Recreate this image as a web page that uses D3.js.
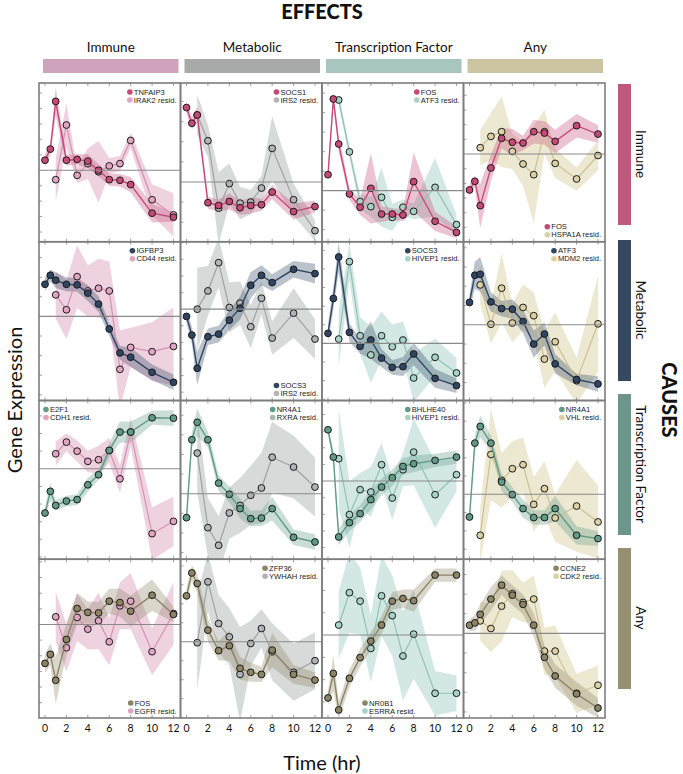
<!DOCTYPE html>
<html><head><meta charset="utf-8">
<script src="https://cdn.jsdelivr.net/npm/d3@7"></script>
<style>body{margin:0;background:#fff}</style>
</head><body><svg id="c" width="683" height="774" xmlns="http://www.w3.org/2000/svg"></svg>
<script>
// ---------- data ----------
const causes = ["Immune", "Metabolic", "Transcription Factor", "Any"];
const effects = ["Immune", "Metabolic", "Transcription Factor", "Any"];
const times = [0, 0.5, 1, 2, 3, 4, 5, 6, 7, 8, 10, 12];
const residTimes = [1, 2, 3, 4, 5, 6, 7, 8, 10, 12];
const xTickValues = [0, 2, 4, 6, 8, 10, 12];

// panels in row order (cause rows x effect columns)
const geneLabels = [
  ["TNFAIP3", "IRAK2 resid."], ["SOCS1", "IRS2 resid."], ["FOS", "ATF3 resid."], ["FOS", "HSPA1A resid."],
  ["IGFBP3", "CD44 resid."], ["SOCS3", "IRS2 resid."], ["SOCS3", "HIVEP1 resid."], ["ATF3", "MDM2 resid."],
  ["E2F1", "CDH1 resid."], ["NR4A1", "RXRA resid."], ["BHLHE40", "HIVEP1 resid."], ["NR4A1", "VHL resid."],
  ["FOS", "EGFR resid."], ["ZFP36", "YWHAH resid."], ["NR0B1", "ESRRA resid."], ["CCNE2", "CDK2 resid."]
];
const yRanges = [
  [-4.63, 5.65], [-2.97, 4.92], [-2.62, 5.52], [-5.98, 4.84],
  [-4.29, 3.81], [-5.5, 4.06], [-3.07, 5.46], [-3.93, 4.31],
  [-5.13, 3.87], [-3.34, 4.75], [-4.7, 4.84], [-3.55, 5.13],
  [-5.98, 4.17], [-4.02, 4.35], [-3.72, 3.4], [-4.31, 3.78]
];
const mainValues = [
  [0.65, 1.37, 4.46, 0.65, 0.70, 0.59, 0, -0.61, -0.65, -0.93, -2.78, -3.04],
  [3.7, 2.92, 3.33, -1.03, -1.17, -0.97, -1.28, -1.17, -1.13, -0.5, -1.47, -1.22],
  [0.82, 4.7, 2.39, -0.17, -0.85, 0.12, -1.2, -1.2, -1.25, 0.46, -1.57, -2.14],
  [-2.45, -1.86, -3.52, -0.95, 1.07, 0.8, 0.75, 1.52, 1.43, 0.86, 1.93, 1.36],
  [1.64, 2.1, 1.85, 1.64, 1.61, 1.19, 0.63, -0.64, -1.86, -2.08, -2.85, -3.36],
  [-0.44, -1.56, -3.56, -1.66, -1.5, -0.66, 0.06, 1.44, 2.04, 1.6, 2.4, 2.14],
  [0.54, 2.41, 4.64, 0.59, -0.16, 0.18, -0.79, -1.29, -1.25, -0.57, -1.88, -2.27],
  [1.16, 2.57, 2.62, 1.19, 0.84, 0.81, 0.17, -1.0, -0.48, -2.03, -2.84, -3.07],
  [-2.51, -1.28, -2.08, -1.83, -1.75, -0.91, -0.34, 1.04, 2.08, 2.08, 2.89, 2.87],
  [-1.22, 2.75, 3.64, 2.75, 0.54, -0.03, -0.76, -1.27, -1.24, -0.76, -2.22, -2.46],
  [3.08, 1.44, -3.36, -2.5, -1.96, -1.12, -0.36, 0.2, 0.88, 1.04, 1.24, 1.44],
  [-1.24, 2.8, 3.71, 2.8, 0.67, -0.02, -0.78, -1.27, -1.27, -0.78, -2.24, -2.42],
  [-2.49, -1.91, -3.57, -0.96, 1.02, 0.77, 0.74, 1.49, 1.4, 0.85, 1.87, 0.64],
  [2.42, 3.63, 3.07, 0.61, -0.47, -0.21, -1.4, -1.61, -1.72, -0.44, -1.72, -2.02],
  [-2.82, -1.72, -3.36, -1.94, -1.01, -0.27, 0.45, 1.52, 1.64, 1.54, 2.69, 2.69],
  [0.42, 0.54, 0.97, 1.75, 2.46, 1.95, 1.48, 0.42, -1.22, -2.17, -3.08, -3.8]
];
const mainSpread = [
  [0.4, 0.4, 0.9, 0.35, 0.35, 0.45, 0.4, 0.4, 0.4, 0.5, 0.6, 0.3],
  [0.3, 0.3, 0.4, 0.3, 0.3, 0.4, 0.35, 0.4, 0.3, 0.35, 0.4, 0.3],
  [0.3, 0.3, 0.4, 0.3, 0.4, 1.8, 0.4, 0.3, 0.3, 1.5, 0.5, 0.3],
  [0.4, 0.4, 1.5, 0.9, 0.7, 0.9, 0.5, 0.8, 0.8, 0.8, 0.8, 0.6],
  [0.35, 0.3, 0.4, 0.35, 0.35, 0.4, 0.4, 0.35, 0.35, 0.5, 0.4, 0.4],
  [0.4, 0.5, 1.0, 0.5, 0.5, 0.6, 0.7, 0.8, 0.6, 0.5, 0.5, 0.6],
  [0.5, 0.6, 0.8, 0.5, 0.4, 1.0, 0.5, 0.4, 0.5, 0.6, 0.5, 0.4],
  [0.4, 0.7, 0.9, 0.5, 0.4, 0.5, 0.6, 0.7, 0.6, 0.5, 0.3, 0.4],
  [0.3, 0.5, 0.3, 0.3, 0.3, 0.4, 0.3, 0.4, 0.6, 0.6, 0.4, 0.45],
  [0.3, 0.4, 0.7, 0.4, 0.4, 0.4, 0.5, 0.4, 0.4, 0.6, 0.4, 0.4],
  [0.3, 0.4, 0.5, 0.5, 0.5, 0.6, 0.5, 0.5, 0.5, 0.5, 0.4, 0.4],
  [0.3, 0.4, 0.6, 0.4, 0.5, 0.4, 0.5, 0.4, 0.4, 0.7, 0.5, 0.4],
  [0.6, 0.7, 1.5, 1.0, 1.0, 0.7, 0.7, 0.8, 0.9, 1.0, 1.0, 0.5],
  [0.4, 0.4, 0.5, 0.6, 0.5, 0.8, 0.6, 0.5, 0.4, 0.9, 0.5, 0.4],
  [0.3, 0.8, 0.4, 0.4, 0.4, 0.4, 0.4, 0.4, 0.4, 0.5, 0.3, 0.3],
  [0.3, 0.4, 0.5, 0.6, 0.5, 0.5, 0.5, 0.6, 0.6, 0.6, 0.6, 0.5]
];
const residValues = [
  [-0.61, 2.93, -0.33, 0.43, -0.1, 0.28, 0.43, 1.93, -1.91, -2.89],
  [3.33, 2.05, -1.3, -0.08, -1.05, -1.0, -0.3, 1.67, -0.88, -2.42],
  [4.65, 1.99, -0.56, -0.82, -0.34, -1.37, -0.85, -1.06, 0.17, -1.74],
  [0.43, 1.2, 1.52, 0.18, -0.68, -1.41, 1.52, -0.64, -1.7, -0.1],
  [1.1, 0.34, 2.03, 1.3, 1.44, 1.3, -2.7, -1.58, -1.8, -1.53],
  [0, 1.1, 2.8, 0.1, 0.36, -1.06, 0.66, -1.74, -0.24, -1.8],
  [0.23, 4.39, 0.41, -0.62, 0.41, -0.18, 0.18, -1.86, -0.75, -1.59],
  [2.07, 0.03, 1.9, 0.09, 0.9, 0.47, -1.78, -0.88, -2.9, 0.05],
  [0.85, 1.51, 1.0, 0.42, 0.51, 1.04, -0.57, 2.08, -3.68, -2.98],
  [2.07, -1.73, -2.63, -0.98, -0.6, -0.08, 0.29, 1.86, 1.36, 0.34],
  [1.34, -2.02, -0.52, -0.66, 0.98, -1.02, 0.68, 1.74, -0.82, 0.38],
  [-2.24, 2.18, 0.76, 1.4, 1.62, -0.55, 0.31, -1.29, -0.64, -1.51],
  [0.49, -1.49, 0.45, -0.3, 0.23, -1.11, 1.19, 1.49, -1.74, 0.7],
  [-0.05, 3.16, 0.96, 0.26, -1.72, -0.09, 0.7, -0.53, -1.61, -1.0],
  [0.45, 1.9, 1.52, -0.6, 1.76, 0.87, -0.94, 0.04, -2.61, -2.61],
  [0.64, 0.25, 1.39, 2.03, 1.58, 1.75, -0.9, -0.9, -3.05, -2.64]
];
const residSpread = [
  [1.4, 1.4, 0.5, 1.0, 2.0, 0.5, 0.5, 0.5, 1.0, 1.4],
  [1.0, 0.8, 1.8, 1.0, 0.8, 0.6, 0.6, 1.6, 0.8, 0.5],
  [0.3, 0.3, 0.4, 0.5, 1.5, 0.7, 0.4, 0.4, 1.5, 0.5],
  [1.2, 1.6, 2.4, 1.2, 1.5, 3.3, 1.5, 1.0, 0.8, 1.0],
  [1.2, 1.5, 1.6, 1.3, 1.5, 1.5, 2.0, 1.0, 1.5, 2.0],
  [2.5, 1.5, 1.5, 1.5, 1.3, 1.3, 1.0, 1.0, 1.5, 1.2],
  [1.5, 1.0, 1.0, 1.5, 1.3, 1.2, 1.0, 1.3, 1.0, 0.8],
  [1.0, 1.0, 1.8, 1.0, 1.2, 1.2, 1.5, 1.5, 1.2, 2.5],
  [0.7, 0.5, 0.6, 0.6, 0.8, 0.7, 0.8, 0.8, 1.5, 1.4],
  [2.0, 1.5, 1.5, 1.3, 1.4, 1.5, 1.8, 1.8, 1.6, 1.5],
  [3.0, 2.0, 1.0, 1.5, 1.3, 1.3, 1.0, 2.0, 2.0, 1.0],
  [1.5, 2.5, 1.5, 1.5, 1.5, 1.5, 1.5, 1.3, 2.5, 2.0],
  [1.6, 1.5, 1.5, 1.3, 1.8, 1.5, 1.5, 1.8, 1.5, 2.0],
  [2.5, 1.5, 1.5, 1.5, 2.5, 1.2, 1.0, 1.5, 1.5, 1.5],
  [1.5, 1.8, 1.5, 1.5, 1.8, 1.8, 2.0, 2.0, 1.0, 0.8],
  [1.0, 1.2, 1.8, 1.2, 1.0, 1.2, 1.2, 1.3, 1.0, 1.0]
];

// ---------- layout / style ----------
const legendPlace = ["tr","tr","tr","br","tr","br","tr","tr","tl","tr","tr","tr","br","tr","bl","tr"];
const causeDark = ["#c64a78", "#2f4562", "#5f9b86", "#8c8464"];
const effectLight = ["#e0a5c2", "#b2b3b4", "#a8d2c7", "#dbd1a5"];
const effectLineCol = ["#d590b2", "#9fa1a2", "#8fc2b6", "#cbc08f"];
const headerBarCol = ["#cfa3bb", "#a7aaa9", "#a6c6bf", "#cdc5a2"];
const sideBarCol = ["#c0577c", "#34495f", "#6b9689", "#979070"];

const svg = d3.select("#c");
const GL = 39, GT = 83, colW = 141.5, rowH = 158.75;
const labelFont = "Lato, 'Open Sans', sans-serif";
const smallFont = "'Liberation Sans', Arial, sans-serif";

// Titles
svg.append("text").attr("x", 322).attr("y", 19).attr("text-anchor", "middle")
  .attr("font-family", labelFont).attr("font-weight", 900).attr("font-size", 20)
  .attr("fill", "#111").text("EFFECTS");

effects.forEach((e, c) => {
  const x0 = GL + c * colW;
  svg.append("rect").attr("x", x0 + 4).attr("y", 59).attr("width", colW - 6).attr("height", 14)
    .attr("fill", headerBarCol[c]);
  svg.append("text").attr("x", x0 + colW / 2 + 1).attr("y", 52).attr("text-anchor", "middle")
    .attr("font-family", labelFont).attr("font-size", 13.5).attr("fill", "#111").text(e);
});

const sideY = [84, 240, 394, 548];
causes.forEach((cz, r) => {
  svg.append("rect").attr("x", 618).attr("y", sideY[r]).attr("width", 13).attr("height", 141)
    .attr("fill", sideBarCol[r]);
  const cy = sideY[r] + 70;
  svg.append("text").attr("transform", `translate(636,${cy}) rotate(90)`).attr("text-anchor", "middle")
    .attr("font-family", labelFont).attr("font-size", 13.5).attr("fill", "#111").text(cz);
});
svg.append("text").attr("transform", "translate(662,400) rotate(90)").attr("text-anchor", "middle")
  .attr("font-family", labelFont).attr("font-weight", 900).attr("font-size", 20).attr("fill", "#111").text("CAUSES");

svg.append("text").attr("transform", "translate(22,400) rotate(-90)").attr("text-anchor", "middle")
  .attr("font-family", labelFont).attr("font-size", 20).attr("fill", "#111").text("Gene Expression");
svg.append("text").attr("x", 322).attr("y", 770).attr("text-anchor", "middle")
  .attr("font-family", labelFont).attr("font-size", 20).attr("fill", "#111").text("Time (hr)");

const defs = svg.append("defs");

for (let r = 0; r < 4; r++) {
  for (let c = 0; c < 4; c++) {
    const i = r * 4 + c;
    const x0 = GL + c * colW, y0 = GT + r * rowH, x1 = x0 + colW, y1 = y0 + rowH;
    const xs = d3.scaleLinear().domain([0, 12]).range([x0 + 6, x1 - 7]);
    const ys = d3.scaleLinear().domain(yRanges[i]).range([y1, y0]);
    const clipId = "clip" + i;
    defs.append("clipPath").attr("id", clipId).append("rect")
      .attr("x", x0).attr("y", y0).attr("width", colW).attr("height", rowH);
    const g = svg.append("g");
    const gc = g.append("g").attr("clip-path", `url(#${clipId})`);

    const mainPts = times.map((t, k) => ({ t, v: mainValues[i][k], s: mainSpread[i][k] }));
    const resPts = residTimes.map((t, k) => ({ t, v: residValues[i][k], s: residSpread[i][k] }));
    const area = d3.area().x(d => xs(d.t)).y0(d => ys(d.v - d.s)).y1(d => ys(d.v + d.s));
    const line = d3.line().x(d => xs(d.t)).y(d => ys(d.v));

    // bands
    gc.append("path").attr("d", area(resPts)).attr("fill", effectLight[c]).attr("fill-opacity", 0.5);
    gc.append("path").attr("d", area(mainPts)).attr("fill", causeDark[r]).attr("fill-opacity", 0.33);

    // zero line
    g.append("line").attr("x1", x0).attr("x2", x1).attr("y1", ys(0)).attr("y2", ys(0))
      .attr("stroke", "#8a8a8a").attr("stroke-width", 1.1);

    // y ticks (inside)
    const yt = d3.range(Math.ceil(yRanges[i][0]), Math.floor(yRanges[i][1]) + 1).filter(v => v !== 0);
    g.selectAll(null).data(yt).enter().append("line")
      .attr("x1", x0).attr("x2", x0 + 3).attr("y1", d => ys(d)).attr("y2", d => ys(d))
      .attr("stroke", "#888").attr("stroke-width", 0.8);
    // x ticks top & bottom (inside)
    g.selectAll(null).data(xTickValues).enter().append("line")
      .attr("x1", d => xs(d)).attr("x2", d => xs(d)).attr("y1", y1).attr("y2", y1 - 3)
      .attr("stroke", "#888").attr("stroke-width", 0.8);
    g.selectAll(null).data(xTickValues).enter().append("line")
      .attr("x1", d => xs(d)).attr("x2", d => xs(d)).attr("y1", y0).attr("y2", y0 + 3)
      .attr("stroke", "#888").attr("stroke-width", 0.8);

    // residual series
    gc.append("path").attr("d", line(resPts)).attr("fill", "none")
      .attr("stroke", effectLineCol[c]).attr("stroke-width", 1.2);
    gc.selectAll(null).data(resPts).enter().append("circle")
      .attr("cx", d => xs(d.t)).attr("cy", d => ys(d.v)).attr("r", 3.4)
      .attr("fill", effectLight[c]).attr("stroke", "#1a1a1a").attr("stroke-width", 1);
    // main series
    gc.append("path").attr("d", line(mainPts)).attr("fill", "none")
      .attr("stroke", causeDark[r]).attr("stroke-width", 1.4);
    gc.selectAll(null).data(mainPts).enter().append("circle")
      .attr("cx", d => xs(d.t)).attr("cy", d => ys(d.v)).attr("r", 3.4)
      .attr("fill", causeDark[r]).attr("stroke", "#1a1a1a").attr("stroke-width", 1);

    // legend
    const lg = g.append("g");
    const t1 = lg.append("text").attr("font-family", smallFont).attr("font-size", 7.6).attr("fill", "#222").text(geneLabels[i][0]);
    const t2 = lg.append("text").attr("font-family", smallFont).attr("font-size", 7.6).attr("fill", "#222").text(geneLabels[i][1]);
    const wMax = Math.max(t1.node().getComputedTextLength(), t2.node().getComputedTextLength());
    const place = legendPlace[i];
    let lx, ly1;
    if (place === "tr") { lx = x1 - 4 - wMax - 7; ly1 = y0 + 9; }
    else if (place === "tl") { lx = x0 + 4; ly1 = y0 + 9; }
    else if (place === "br") { lx = x1 - 4 - wMax - 7; ly1 = y1 - 15; }
    else { lx = x0 + 40; ly1 = y1 - 15; }
    const ly2 = ly1 + 8;
    lg.append("circle").attr("cx", lx + 3).attr("cy", ly1).attr("r", 2.8).attr("fill", causeDark[r]);
    lg.append("circle").attr("cx", lx + 3).attr("cy", ly2).attr("r", 2.8).attr("fill", effectLight[c]);
    t1.attr("x", lx + 7).attr("y", ly1 + 2.7);
    t2.attr("x", lx + 7).attr("y", ly2 + 2.7);
  }
}

// grid frame
for (let r = 0; r < 4; r++) for (let c = 0; c < 4; c++) {
  svg.append("rect").attr("x", GL + c * colW).attr("y", GT + r * rowH).attr("width", colW).attr("height", rowH)
    .attr("fill", "none").attr("stroke", "#7d7d7d").attr("stroke-width", 1.6);
}

// x tick labels
for (let c = 0; c < 4; c++) {
  const x0 = GL + c * colW;
  const xs = d3.scaleLinear().domain([0, 12]).range([x0 + 6, x0 + colW - 7]);
  svg.selectAll(null).data(xTickValues).enter().append("text")
    .attr("x", d => xs(d)).attr("y", 732).attr("text-anchor", "middle")
    .attr("font-family", labelFont).attr("font-size", 10.5).attr("fill", "#111").text(d => d);
}
</script></body></html>
